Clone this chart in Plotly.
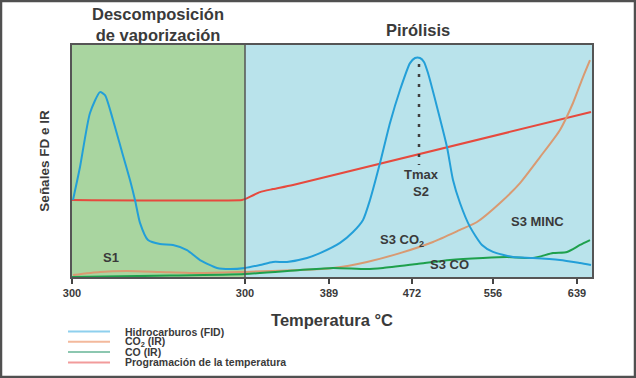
import plotly.graph_objects as go

# ---- data (x: analysis progress units, y: relative signal %) ----
tick_pos = [0, 173, 257, 340, 421, 505]
tick_labels = ["300", "300", "389", "472", "556", "639"]
iso_end = 173
x_end = 520

fid_x = [1, 8, 18, 28, 33, 41, 50, 58, 63, 68, 76, 88, 101, 115, 128, 145, 158, 173, 188, 201, 215,
         235, 248, 268, 281, 291, 298, 308, 318, 328, 338, 343, 348, 352, 356, 365, 375, 381, 388,
         398, 410, 421, 441, 461, 488, 508, 519]
fid_y = [33.2, 47.4, 70.7, 79.7, 78.4, 67.7, 53.9, 41.8, 33.2, 23.3, 15.9, 14.2, 13.8, 11.6, 7.3,
         3.9, 3.4, 3.9, 5.2, 6.5, 6.5, 8.2, 10.3, 14.7, 19.4, 24.6, 33.2, 49.1, 66.4, 80.6, 92.2,
         94.4, 94.4, 92.7, 87.9, 73.3, 56.0, 41.8, 31.9, 21.6, 13.8, 10.8, 8.6, 8.2, 7.3, 6.0, 5.2]

temp_x = [0, 170, 173, 188, 201, 221, 519]
temp_y = [33.2, 33.2, 33.6, 36.6, 37.9, 39.7, 71.1]

co2_x = [1, 28, 55, 88, 128, 173, 228, 261, 295, 328, 361, 388, 405, 428, 448, 468, 488, 501, 511, 518]
co2_y = [0.9, 2.2, 2.6, 2.2, 1.7, 2.2, 3.0, 3.9, 6.5, 10.3, 15.1, 20.3, 23.7, 31.9, 40.5, 51.7,
         63.4, 75.0, 86.2, 93.5]

co_x = [0, 33, 98, 173, 228, 261, 295, 311, 345, 378, 411, 435, 461, 481, 495, 508, 518]
co_y = [0.0, 0.2, 0.6, 1.3, 3.0, 3.9, 3.4, 3.9, 5.6, 7.3, 8.2, 8.6, 8.2, 10.3, 10.8, 13.8, 15.9]

tmax_x = 347
tmax_top, tmax_bottom = 91.8, 48.3

legend_names = ["Hidrocarburos (FID)", "CO<sub>2</sub> (IR)", "CO (IR)", "Programación de la temperatura"]
legend_colors = ["#8ED0EE", "#F3B99C", "#8CC7B0", "#F29B9B"]

labels = [("S1", 39, 8.2), ("Tmax<br>S2", 349, 40.5), ("S3 CO<sub>2</sub>", 330, 15.9),
          ("S3 CO", 377, 5.6), ("S3 MINC", 465, 24.1)]

FONT = "Liberation Sans"
TXT = "#3a3a3a"

fig = go.Figure()

def add_line(x, y, color, name):
    fig.add_trace(go.Scatter(x=x, y=y, mode="lines", name=name,
                             line=dict(color=color, width=2, shape="spline", smoothing=0.6), hoverinfo="skip"))

add_line(temp_x, temp_y, "#E64A3E", "temp")
add_line(co2_x, co2_y, "#D99A72", "co2")
add_line(co_x, co_y, "#1EA04C", "co")
add_line(fid_x, fid_y, "#239FD8", "fid")

# Tmax dotted
fig.add_trace(go.Scatter(x=[tmax_x, tmax_x], y=[tmax_top, tmax_bottom], mode="lines",
                         line=dict(color="#3f3f3f", width=2.5, dash="3px,7px"), hoverinfo="skip"))

shapes = [
    dict(type="rect", xref="x", yref="paper", x0=0, x1=iso_end, y0=0, y1=1, fillcolor="#A9D5A0", line_width=0, layer="below"),
    dict(type="rect", xref="x", yref="paper", x0=iso_end, x1=x_end, y0=0, y1=1, fillcolor="#B9E3EB", line_width=0, layer="below"),
    dict(type="line", xref="x", yref="paper", x0=iso_end, x1=iso_end, y0=0, y1=1, line=dict(color="#555", width=1.5)),
    # outer frame
    dict(type="rect", xref="paper", yref="paper", x0=(1 - 72) / 520, x1=(635 - 72) / 520,
         y0=(277 - 377) / 232, y1=(277 - 1) / 232, line=dict(color="#505050", width=2.5)),
]

annotations = []
for txt, x, y in labels:
    annotations.append(dict(x=x, y=y, xref="x", yref="y", text=f"<b>{txt}</b>", showarrow=False,
                            xanchor="center", yanchor="middle",
                            font=dict(family=FONT, size=13, color=TXT)))

# region titles
annotations.append(dict(x=86 / 520, y=(277 - 25) / 232, xref="paper", yref="paper",
                        xanchor="center", yanchor="middle",
                        text="<b>Descomposición<br>de vaporización</b>", showarrow=False,
                        font=dict(family=FONT, size=16.5, color=TXT), align="center"))
annotations.append(dict(x=346 / 520, y=(277 - 30) / 232, xref="paper", yref="paper",
                        xanchor="center", yanchor="middle",
                        text="<b>Pirólisis</b>", showarrow=False, font=dict(family=FONT, size=16.5, color=TXT)))

# legend (manual)
for i, (nm, col) in enumerate(zip(legend_names, legend_colors)):
    py = 331.5 + 10.3 * i
    yp = (277 - py) / 232
    shapes.append(dict(type="line", xref="paper", yref="paper", x0=-4 / 520, x1=38 / 520, y0=yp, y1=yp,
                       line=dict(color=col, width=2)))
    annotations.append(dict(x=51 / 520, y=yp, xref="paper", yref="paper", text=f"<b>{nm}</b>",
                            showarrow=False, xanchor="left", yanchor="middle",
                            font=dict(family=FONT, size=10.5, color=TXT)))

fig.update_layout(
    width=636, height=378,
    margin=dict(l=72, r=44, t=45, b=101),
    paper_bgcolor="white", plot_bgcolor="white",
    showlegend=False,
    shapes=shapes, annotations=annotations,
    xaxis=dict(range=[0, x_end], tickvals=tick_pos, ticktext=tick_labels, ticks="outside", ticklen=5,
               tickcolor="#444", tickwidth=1.5, showgrid=False, zeroline=False,
               showline=True, mirror=True, linecolor="#555", linewidth=1.5,
               tickfont=dict(family=FONT, size=11, color=TXT, weight="bold"),
               title=dict(text="<b>Temperatura °C</b>", font=dict(family=FONT, size=16.5, color=TXT), standoff=16)),
    yaxis=dict(range=[0, 100], showticklabels=False, ticks="", showgrid=False, zeroline=False,
               showline=True, mirror=True, linecolor="#555", linewidth=1.5,
               title=dict(text="<b>Señales FD e IR</b>", font=dict(family=FONT, size=13.5, color=TXT), standoff=18)),
)

fig.write_html("out.html")
